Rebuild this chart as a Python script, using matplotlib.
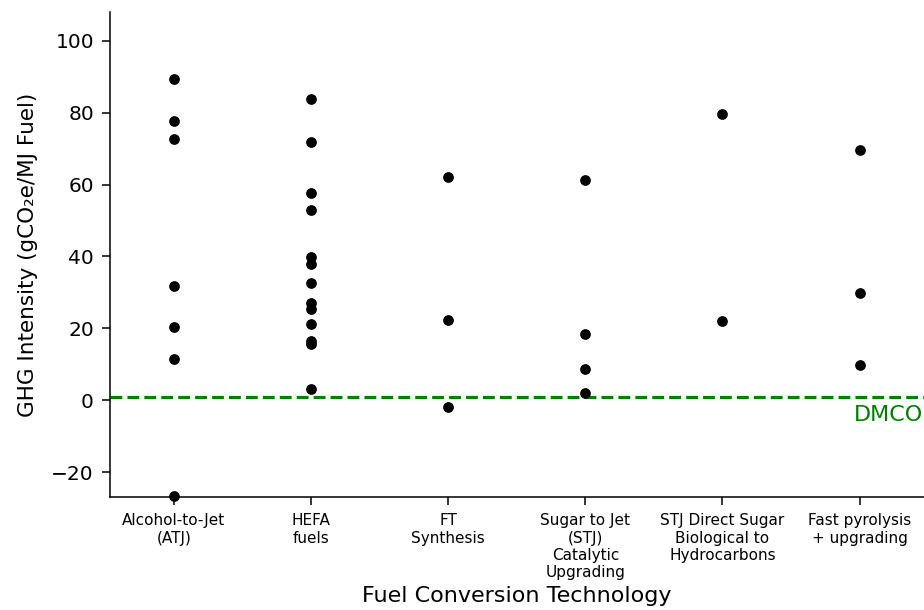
import matplotlib
matplotlib.use("Agg")
import matplotlib.pyplot as plt

categories = ["Alcohol-to-Jet\n(ATJ)", "HEFA\nfuels", "FT\nSynthesis",
              "Sugar to Jet\n(STJ)\nCatalytic\nUpgrading",
              "STJ Direct Sugar\nBiological to\nHydrocarbons",
              "Fast pyrolysis\n+ upgrading"]
atj = [89.5, 77.7, 72.7, 31.9, 20.4, 11.5, -26.8]
hefa = [83.7, 71.8, 57.8, 52.9, 39.9, 37.9, 32.7, 27.0, 25.5, 21.3, 16.6, 15.7, 3.0]
ft = [62.1, 22.2, -1.9]
stj = [61.3, 18.3, 8.8, 1.9]
stj_direct = [79.7, 21.9]
pyrolysis = [69.7, 29.8, 9.9]
series = [atj, hefa, ft, stj, stj_direct, pyrolysis]
dmco = 1.0
yticks = [-20, 0, 20, 40, 60, 80, 100]

fig = plt.figure(figsize=(9.24, 6.10), dpi=100)
ax = fig.add_axes([0.119, 0.185, 0.881, 0.795])

for i, vals in enumerate(series):
    ax.scatter([i] * len(vals), vals, s=45, color="black", zorder=3, clip_on=False)

ax.axhline(dmco, color="green", linestyle="--", linewidth=2.3, zorder=2)
ax.text(4.955, dmco - 2.3, "DMCO", color="green", fontsize=16, va="top", ha="left")

ax.set_xlim(-0.467, 5.47)
ax.set_ylim(-27, 108)
ax.set_yticks(yticks)
ax.set_xticks(range(len(categories)))
ax.set_xticklabels(categories, fontsize=11, linespacing=1.2)
ax.tick_params(axis="both", length=5.5, width=1.1, pad=6)
ax.tick_params(axis="y", labelsize=14.5)
for s in ("left", "bottom"):
    ax.spines[s].set_linewidth(1.1)
ax.spines["top"].set_visible(False)
ax.spines["right"].set_visible(False)
ax.set_ylabel("GHG Intensity (gCO₂e/MJ Fuel)", fontsize=15.5)
ax.set_xlabel("Fuel Conversion Technology", fontsize=16)
ax.yaxis.set_label_coords(-0.088, 0.5)

fig.savefig("out.png", dpi=100)
